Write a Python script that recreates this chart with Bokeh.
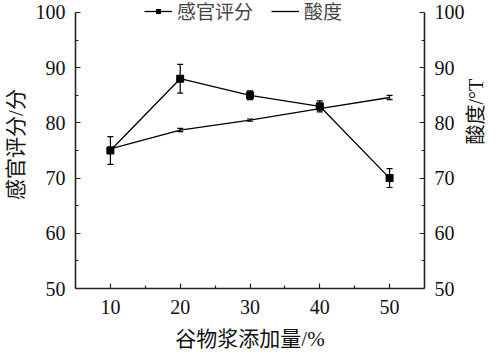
import math
from bokeh.plotting import figure
from bokeh.models import (ColumnDataSource, Whisker, TeeHead, LinearAxis, Range1d,
                          FixedTicker, Legend, LegendItem)
from bokeh.embed import file_html
from bokeh.resources import INLINE

# Data
addition = [10, 20, 30, 40, 50]
sensory = [75.0, 88.0, 85.0, 83.0, 70.0]
sensory_err = [2.5, 2.6, 0.8, 1.0, 1.7]
acidity = [75.3, 78.7, 80.5, 82.6, 84.6]
acidity_err = [0.3, 0.3, 0.2, 0.3, 0.4]

x_ticks = [10, 20, 30, 40, 50]
x_minor = [15, 25, 35, 45]
y_ticks = [50, 60, 70, 80, 90, 100]
y_minor = [55, 65, 75, 85, 95]

SERIF = "'Liberation Serif', 'Noto Sans CJK SC'"

src = ColumnDataSource(dict(
    x=addition,
    s=sensory,
    s_up=[v + e for v, e in zip(sensory, sensory_err)],
    s_lo=[v - e for v, e in zip(sensory, sensory_err)],
    a=acidity,
    a_up=[v + e for v, e in zip(acidity, acidity_err)],
    a_lo=[v - e for v, e in zip(acidity, acidity_err)],
))

Y_TOP = 102.17  # leaves headroom above the 100 tick for the legend

p = figure(width=500, height=357, output_backend="svg", toolbar_location=None,
           x_range=Range1d(5, 55), y_range=Range1d(50, Y_TOP),
           min_border_left=73, min_border_right=73, min_border_top=0, min_border_bottom=69)
p.extra_y_ranges = {"acid": Range1d(50, Y_TOP)}
p.outline_line_color = None
p.grid.visible = False
p.background_fill_color = "white"

# Acidity line
la = p.line("x", "a", source=src, y_range_name="acid", line_color="black", line_width=1.3)
p.add_layout(Whisker(base="x", upper="a_up", lower="a_lo", source=src, y_range_name="acid",
                     line_color="black", line_width=1.2,
                     upper_head=TeeHead(size=6, line_color="black", line_width=1.2),
                     lower_head=TeeHead(size=6, line_color="black", line_width=1.2)))

# Sensory line + squares
ls = p.line("x", "s", source=src, line_color="black", line_width=1.3)
ms = p.scatter("x", "s", source=src, marker="square", size=7, fill_color="black", line_color="black")
p.add_layout(Whisker(base="x", upper="s_up", lower="s_lo", source=src,
                     line_color="black", line_width=1.2,
                     upper_head=TeeHead(size=6, line_color="black", line_width=1.2),
                     lower_head=TeeHead(size=6, line_color="black", line_width=1.2)))

def style_axis(ax):
    ax.axis_line_color = "#222222"
    ax.axis_line_width = 1.6
    ax.major_tick_line_color = "#222222"
    ax.minor_tick_line_color = "#222222"
    ax.major_tick_line_width = 1.2
    ax.minor_tick_line_width = 1.2
    ax.major_tick_in = 5
    ax.major_tick_out = 0
    ax.minor_tick_in = 3
    ax.minor_tick_out = 0
    ax.major_label_text_font = SERIF
    ax.major_label_text_font_size = "20px"
    ax.major_label_text_color = "#111111"
    ax.axis_label_text_font = SERIF
    ax.axis_label_text_font_size = "21px"
    ax.axis_label_text_font_style = "normal"
    ax.axis_label_text_color = "#111111"

xa = p.xaxis[0]
xa.ticker = FixedTicker(ticks=x_ticks, minor_ticks=x_minor)
xa.axis_label = "谷物浆添加量/%"
style_axis(xa)
xa.major_label_standoff = 11
xa.axis_label_standoff = 10

ya = p.yaxis[0]
ya.ticker = FixedTicker(ticks=y_ticks, minor_ticks=y_minor)
ya.axis_label = "感官评分/分"
ya.bounds = (50, 100)
style_axis(ya)
ya.major_label_standoff = 10
ya.axis_label_standoff = 5

yr = LinearAxis(y_range_name="acid", axis_label="酸度/°T",
                ticker=FixedTicker(ticks=y_ticks, minor_ticks=y_minor), bounds=(50, 100))
style_axis(yr)
yr.axis_label_text_font_size = "20px"
yr.major_label_standoff = 10
yr.axis_label_standoff = 8
yr.axis_label_orientation = math.pi / 2
p.add_layout(yr, "right")

legend = Legend(items=[LegendItem(label="感官评分", renderers=[ls, ms]),
                       LegendItem(label="酸度", renderers=[la])],
                location=(69, 264), orientation="horizontal",
                background_fill_alpha=0, border_line_color=None,
                label_text_font=SERIF, label_text_font_size="19px",
                glyph_width=28, glyph_height=10, spacing=18, padding=0, margin=0,
                label_standoff=5)
p.add_layout(legend, "center")

open("out.html", "w").write(file_html(p, INLINE))
